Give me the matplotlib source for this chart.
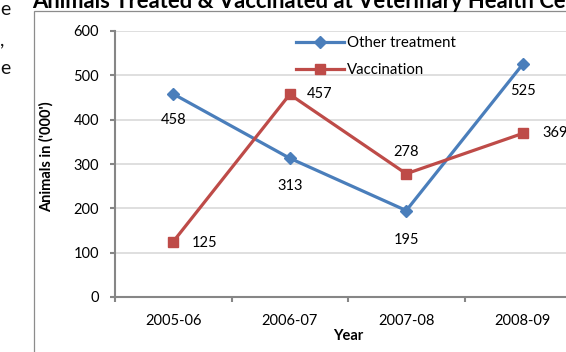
import matplotlib.pyplot as plt
from matplotlib.patches import Rectangle

years = ["2005-06", "2006-07", "2007-08", "2008-09"]
other_treatment = [458, 313, 195, 525]
vaccination = [125, 457, 278, 369]
y_ticks = [0, 100, 200, 300, 400, 500, 600]

BLUE = "#4A7EBB"
RED = "#BE4B48"
GREY = "#868686"
FS = 10.5

plt.rcParams["font.family"] = ["Lato", "DejaVu Sans"]

fig = plt.figure(figsize=(5.66, 3.52), dpi=100)
ax = fig.add_axes([115 / 566, 1 - 297 / 352, 466 / 566, 266 / 352])

# chart frame (extends past the crop on the right and bottom)
fig.patches.append(Rectangle((34 / 566, -0.1), 1.2, 1 - 11 / 352 + 0.1,
                             transform=fig.transFigure, fill=False,
                             edgecolor="#8C8C8C", linewidth=0.9))

x = range(len(years))
ax.plot(x, other_treatment, color=BLUE, linewidth=2.3, marker="D",
        markersize=6.5, label="Other treatment", zorder=3)
ax.plot(x, vaccination, color=RED, linewidth=2.3, marker="s",
        markersize=7, label="Vaccination", zorder=3)

# data labels
blue_offsets = [(0, -19), (0, -20), (0, -21), (0, -19)]
red_offsets = [(13, -1), (12, 0), (0, 16), (14, 0)]
for i, v in enumerate(other_treatment):
    ax.annotate(str(v), (i, v), xytext=blue_offsets[i], textcoords="offset points",
                ha="center", va="center", fontsize=FS)
for i, v in enumerate(vaccination):
    ax.annotate(str(v), (i, v), xytext=red_offsets[i], textcoords="offset points",
                ha="left" if red_offsets[i][0] else "center", va="center", fontsize=FS)

ax.set_ylim(0, 600)
ax.set_yticks(y_ticks)
ax.set_xlim(-0.5, 3.5)
ax.set_xticks(list(x))
ax.set_xticklabels(years)
ax.set_xticks([-0.5, 0.5, 1.5, 2.5, 3.5], minor=True)
ax.tick_params(axis="x", which="major", length=0, labelsize=FS, pad=12)
ax.tick_params(axis="x", which="minor", length=3.6, width=1.5, color=GREY, direction="out")
ax.tick_params(axis="y", length=3.6, width=1.5, color=GREY, labelsize=FS, pad=8)
ax.grid(axis="y", color="#D9D9D9", linewidth=1.2)
ax.set_axisbelow(True)
for side in ["top", "right"]:
    ax.spines[side].set_visible(False)
for side in ["left", "bottom"]:
    ax.spines[side].set_color(GREY)
    ax.spines[side].set_linewidth(1.5)

ax.set_xlabel("Year", fontsize=FS, fontweight="bold", labelpad=1)
ax.set_ylabel("Animals in ('000')", fontsize=FS, fontweight="bold")
ax.yaxis.set_label_coords((54 - 115) / 466, (297 - 157) / 266)

ax.legend(loc="upper left", bbox_to_anchor=(296 / 566, 1 - 36 / 352),
          bbox_transform=fig.transFigure, frameon=False, fontsize=10.8,
          handlelength=3.2, handletextpad=0.2, labelspacing=0.85,
          borderaxespad=0, borderpad=0)

fig.text(32 / 566, 1 - 7.5 / 352,
         "Animals Treated & Vaccinated at Veterinary Health Centres",
         fontsize=15.8, fontweight="bold", va="baseline", ha="left")

# fragments of the neighbouring page text
for y, s in [(15, "e"), (45, ","), (74, "e")]:
    fig.text(0, 1 - y / 352, s, fontsize=14, va="baseline", ha="left", color="#111111")

fig.savefig("out.png", dpi=100)
